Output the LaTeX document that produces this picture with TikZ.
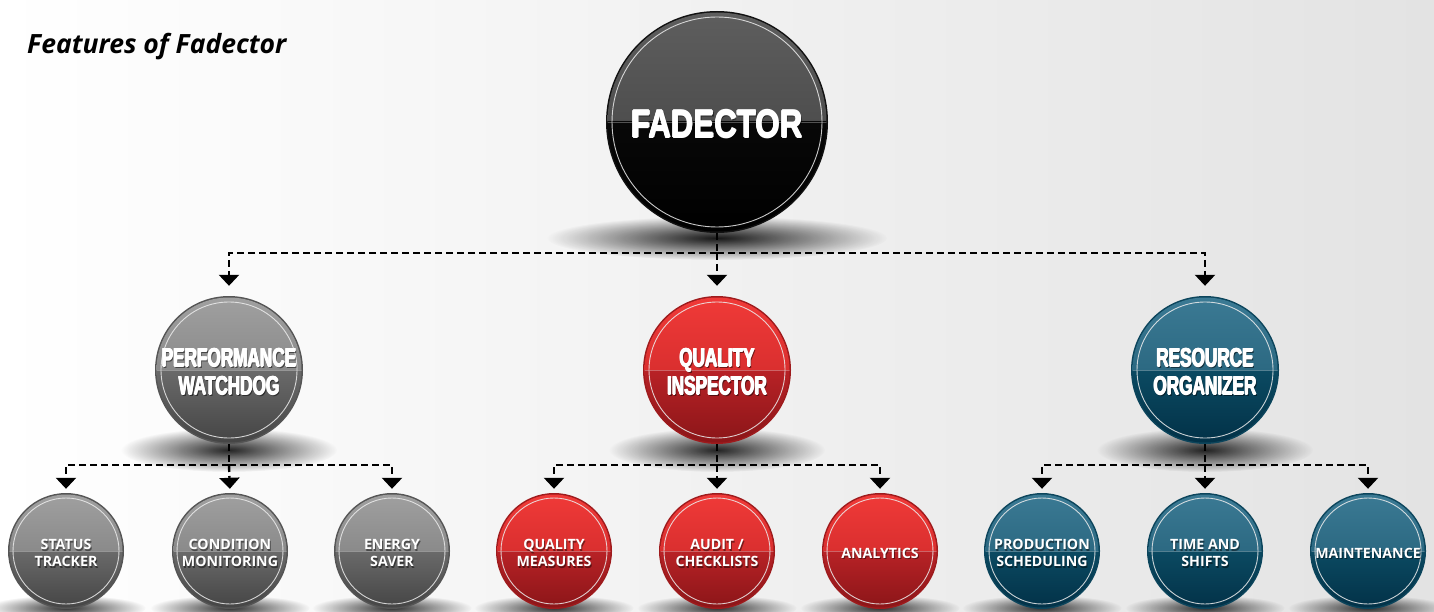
\documentclass[tikz,border=0pt]{standalone}
\usepackage{fontspec}
\setmainfont{Open Sans}
\newfontfamily\impA[FakeStretch=0.8]{Liberation Sans}
\newfontfamily\impB[FakeStretch=0.66]{Liberation Sans}
\usetikzlibrary{arrows.meta,fadings,calc}
\tikzfading[name=shfade, inner color=transparent!0, outer color=transparent!100]
% colour schemes: A upper-top, B upper-bottom, C lower-top, D lower-bottom, E rim
\definecolor{kA}{HTML}{5E5E5E}\definecolor{kB}{HTML}{4E4E4E}\definecolor{kC}{HTML}{080808}\definecolor{kD}{HTML}{000000}\definecolor{kE}{HTML}{111111}
\definecolor{gA}{HTML}{A0A0A0}\definecolor{gB}{HTML}{8A8A8A}\definecolor{gC}{HTML}{6A6A6A}\definecolor{gD}{HTML}{444444}\definecolor{gE}{HTML}{555555}
\definecolor{rA}{HTML}{F03A38}\definecolor{rB}{HTML}{DA2F2F}\definecolor{rC}{HTML}{B82226}\definecolor{rD}{HTML}{8A1518}\definecolor{rE}{HTML}{9E1B1D}
\definecolor{bA}{HTML}{3B7A94}\definecolor{bB}{HTML}{2C6982}\definecolor{bC}{HTML}{0B4A62}\definecolor{bD}{HTML}{023147}\definecolor{bE}{HTML}{0C455C}
\newcommand{\ball}[6]{%
  \fill[#5E] (#2,#3) circle[radius={#4*1pt}];
  \begin{scope}
    \clip (#2,#3) circle[radius={(#4-1.5)*1pt}];
    \shade[top color=#5A, bottom color=#5B] (#2-#4,#3-#4) rectangle (#2+#4,#3);
    \shade[top color=#5C, bottom color=#5D] (#2-#4,#3) rectangle (#2+#4,#3+#4);
    \draw[white, opacity=0.3, line width=0.8pt] (#2-#4,#3) -- (#2+#4,#3);
  \end{scope}
  \draw[white!85!gray, opacity=0.85, line width=0.9pt] (#2,#3) circle[radius={(#4-#6)*1pt}];
  \node[circle, inner sep=0pt, minimum size={2*#4*1pt}] (#1) at (#2,#3) {};
}
% small labels: name, ball, font, text
\newcommand{\lab}[4]{%
  \node[font=#3, text=black, opacity=0.45, align=center] at ($(#2)+(1,3.5)$) {#4};
  \node[font=#3, text=white, align=center] (#1) at ($(#2)+(0,2)$) {#4};
}
% heavy labels (impact-like), drawn thickened
\newcommand{\hlab}[4]{%
  \node[font=#3, text=black, opacity=0.5, align=center] at ($(#2)+(1.2,3.8)$) {#4};
  \foreach \dx/\dy in {-0.6/0,0.6/0,0/-0.6,0/0.6}
    \node[font=#3, text=white, align=center] at ($(#2)+(\dx,2+\dy)$) {#4};
  \node[font=#3, text=white, align=center] (#1) at ($(#2)+(0,2)$) {#4};
}
\begin{document}
\begin{tikzpicture}[x=1pt,y=-1pt,
  dline/.style={line width=2.4pt, dash pattern=on 7pt off 4pt, black},
  tipd/.style={-{Triangle[width=20pt,length=11pt]}},
  ]
\useasboundingbox (0,0) rectangle (1434,612);
\shade[left color=white, middle color=white!97!black, right color=white!89!black] (0,0) rectangle (1434,612);

% shadows
\foreach \x/\y/\a/\b/\o in {717/238/170/22/0.9,
  229/450/108/22/0.85, 717/450/108/22/0.85, 1205/450/108/22/0.85,
  66/608/80/13/0.8, 230/608/80/13/0.8, 392/608/80/13/0.8, 554/608/80/13/0.8, 717/608/80/13/0.8,
  880/608/80/13/0.8, 1042/608/80/13/0.8, 1205/608/80/13/0.8, 1368/608/80/13/0.8}
  \fill[black, opacity=\o, path fading=shfade] (\x,\y) ellipse ({\a*1pt} and {\b*1pt});

% title
\node[anchor=west, font=\bfseries\itshape\fontsize{26.5}{30}\selectfont, inner sep=0pt] (title) at (27,47) {Features of Fadector};

% balls
\ball{top}{717}{122}{111}{k}{6}
\ball{pw}{229}{370}{74}{g}{6}
\ball{qi}{717}{370}{74}{r}{6}
\ball{ro}{1205}{370}{74}{b}{6}
\ball{st}{66}{551}{58}{g}{5}
\ball{cm}{230}{551}{58}{g}{5}
\ball{es}{392}{551}{58}{g}{5}
\ball{qm}{554}{551}{58}{r}{5}
\ball{ac}{717}{551}{58}{r}{5}
\ball{an}{880}{551}{58}{r}{5}
\ball{ps}{1042}{551}{58}{b}{5}
\ball{ts}{1205}{551}{58}{b}{5}
\ball{mt}{1368}{551}{58}{b}{5}

% labels
\hlab{topL}{top}{\impA\bfseries\fontsize{39}{40}\selectfont}{FADECTOR}
\hlab{pwL}{pw}{\impB\bfseries\fontsize{26}{28}\selectfont}{PERFORMANCE\\WATCHDOG}
\hlab{qiL}{qi}{\impB\bfseries\fontsize{26}{28}\selectfont}{QUALITY\\INSPECTOR}
\hlab{roL}{ro}{\impB\bfseries\fontsize{26}{28}\selectfont}{RESOURCE\\ORGANIZER}
\lab{stL}{st}{\bfseries\fontsize{14.2}{17}\selectfont}{STATUS\\TRACKER}
\lab{cmL}{cm}{\bfseries\fontsize{14.2}{17}\selectfont}{CONDITION\\MONITORING}
\lab{esL}{es}{\bfseries\fontsize{14.2}{17}\selectfont}{ENERGY\\SAVER}
\lab{qmL}{qm}{\bfseries\fontsize{14.2}{17}\selectfont}{QUALITY\\MEASURES}
\lab{acL}{ac}{\bfseries\fontsize{14.2}{17}\selectfont}{AUDIT /\\CHECKLISTS}
\lab{anL}{an}{\bfseries\fontsize{14.2}{17}\selectfont}{ANALYTICS}
\lab{psL}{ps}{\bfseries\fontsize{14.2}{17}\selectfont}{PRODUCTION\\SCHEDULING}
\lab{tsL}{ts}{\bfseries\fontsize{14.2}{17}\selectfont}{TIME AND\\SHIFTS}
\lab{mtL}{mt}{\bfseries\fontsize{14.2}{17}\selectfont}{MAINTENANCE}

% connectors level 1
\coordinate (j1) at (717,253);
\draw[dline] (top.south) -- (j1);
\draw[dline, tipd, shorten >=10pt] (j1) -| (pw.north);
\draw[dline, tipd, shorten >=10pt] (j1) -| (ro.north);
\draw[dline, tipd, shorten >=10pt] (j1) -- (qi.north);

% connectors level 2
\coordinate (j2) at (229,465);
\coordinate (j3) at (717,465);
\coordinate (j4) at (1205,465);
\draw[dline] (pw.south) -- (j2);
\draw[dline] (qi.south) -- (j3);
\draw[dline] (ro.south) -- (j4);
\draw[dline, tipd, shorten >=4pt] (j2) -| (st.north);
\draw[dline, tipd, shorten >=4pt] (j2) -| (es.north);
\draw[dline, tipd, shorten >=4pt] (j2) -- (cm.north);
\draw[dline, tipd, shorten >=4pt] (j3) -| (qm.north);
\draw[dline, tipd, shorten >=4pt] (j3) -| (an.north);
\draw[dline, tipd, shorten >=4pt] (j3) -- (ac.north);
\draw[dline, tipd, shorten >=4pt] (j4) -| (ps.north);
\draw[dline, tipd, shorten >=4pt] (j4) -| (mt.north);
\draw[dline, tipd, shorten >=4pt] (j4) -- (ts.north);
\end{tikzpicture}
\end{document}
